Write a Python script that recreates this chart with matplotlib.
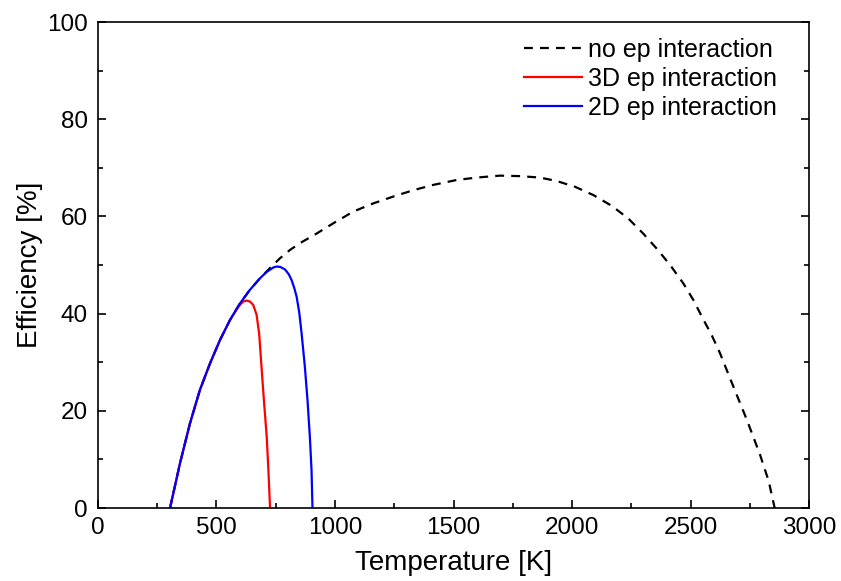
import matplotlib
matplotlib.use("Agg")
import matplotlib.pyplot as plt
from matplotlib.ticker import MultipleLocator

plt.rcParams['font.family'] = ['Liberation Sans', 'DejaVu Sans']

# no ep interaction (dashed)
T_none = [304, 346, 388, 430, 473, 515, 557, 599, 641, 684, 726, 768, 810, 852, 923, 993, 1077,
          1162, 1246, 1330, 1415, 1513, 1597, 1696, 1781, 1865, 1935, 2013, 2090, 2167, 2237,
          2300, 2357, 2414, 2470, 2512, 2553, 2590, 2624, 2679, 2738, 2793, 2830, 2855]
E_none = [0.0, 9.2, 17.4, 24.3, 29.8, 34.6, 38.7, 42.1, 44.9, 47.3, 49.4, 51.4, 53.1, 54.5, 56.5, 58.6, 61.0,
          62.7, 64.1, 65.4, 66.5, 67.5, 68.0, 68.4, 68.3, 68.0, 67.3, 66.1, 64.4, 62.2, 59.6,
          56.5, 53.4, 50.0, 46.2, 42.8, 38.9, 35.5, 31.9, 25.2, 18.1, 11.0, 5.5, 0.0]

# 3D ep interaction (red)
T_3d = [304, 346, 388, 430, 473, 515, 557, 585, 599, 613, 627, 641, 655, 669, 680, 690, 700, 712, 719, 726]
E_3d = [0.0, 9.2, 17.4, 24.3, 29.8, 34.6, 38.7, 40.9, 41.8, 42.5, 42.7, 42.5, 41.8, 39.8, 35.9, 29.0, 22.2, 14.6, 7.8, 0.0]

# 2D ep interaction (blue)
T_2d = [304, 346, 388, 430, 473, 515, 557, 599, 641, 684, 712, 740, 754, 770, 789, 805, 817, 828, 838,
        849, 859, 873, 884, 894, 901, 905]
E_2d = [0.0, 9.2, 17.4, 24.3, 29.8, 34.6, 38.7, 42.1, 44.9, 47.3, 48.6, 49.5, 49.7, 49.6, 49.1, 48.1, 46.9, 45.3, 43.5,
        40.3, 36.0, 29.0, 22.2, 14.6, 7.8, 0.0]

fig = plt.figure(figsize=(8.41, 5.81), dpi=100)
ax = fig.add_axes([0.1165, 0.1256, 0.8455, 0.8364])

ax.plot(T_none, E_none, color='black', linestyle=(0, (4, 3.2)), linewidth=1.6, label='no ep interaction')
ax.plot(T_3d, E_3d, color='#ff0000', linewidth=1.6, label='3D ep interaction')
ax.plot(T_2d, E_2d, color='#0000ff', linewidth=1.6, label='2D ep interaction')

ax.set_xlim(0, 3000)
ax.set_ylim(0, 100)
ax.xaxis.set_major_locator(MultipleLocator(500))
ax.xaxis.set_minor_locator(MultipleLocator(250))
ax.yaxis.set_major_locator(MultipleLocator(20))
ax.yaxis.set_minor_locator(MultipleLocator(10))
ax.tick_params(which='both', direction='in', top=False, right=True, labelsize=17.5, width=1.2)
ax.tick_params(axis='x', which='major', length=6, pad=6.5)
ax.tick_params(axis='y', which='major', length=6, pad=7.5)
ax.tick_params(which='minor', length=3.5)
for s in ax.spines.values():
    s.set_linewidth(1.2)

ax.set_xlabel('Temperature [K]', fontsize=20, labelpad=8)
ax.set_ylabel('Efficiency [%]', fontsize=20, labelpad=2.5)

ax.legend(loc='upper right', bbox_to_anchor=(0.969, 0.988), frameon=False, fontsize=18,
          handlelength=2.3, handletextpad=0.25, labelspacing=0.2, borderaxespad=0.0)

fig.savefig('out.png', dpi=100)
